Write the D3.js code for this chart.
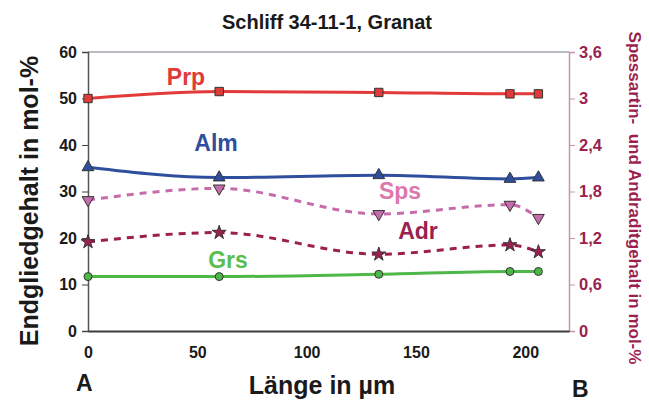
<!DOCTYPE html>
<html>
<head>
<meta charset="utf-8">
<style>
  body { margin: 0; background: #fff; }
  svg text { font-family: "Liberation Sans", Arial, sans-serif; font-weight: bold; }
</style>
</head>
<body>
<div id="chart"></div>
<script src="https://cdn.jsdelivr.net/npm/d3@7"></script>
<script>
var width = 649, height = 405;

// Länge in µm along the profile A-B
var laenge = [0, 60, 133, 193, 206];

// end members, left axis (mol-%)
var prp = [50, 51.5, 51.3, 51, 51];
var alm = [35.2, 33, 33.5, 32.7, 33];
var grs = [11.7, 11.7, 12.2, 12.8, 12.8];

// right axis (mol-%)
var sps = [1.69, 1.84, 1.51, 1.63, 1.46];
var adr = [1.15, 1.27, 0.99, 1.11, 1.02];

var xTicks = [0, 50, 100, 150, 200];
var yTicks = [0, 10, 20, 30, 40, 50, 60];
var y2Ticks = [0, 0.6, 1.2, 1.8, 2.4, 3, 3.6];

var x = d3.scaleLinear().domain([0, 220]).range([88, 569]);
var y = d3.scaleLinear().domain([0, 60]).range([331, 52]);
var y2 = d3.scaleLinear().domain([0, 3.6]).range([331, 52]);

var svg = d3.select('#chart').append('svg')
    .attr('width', width)
    .attr('height', height);

// title
svg.append('text')
    .attr('x', 327).attr('y', 29)
    .attr('text-anchor', 'middle')
    .style('font-size', '20px')
    .attr('fill', '#1a1a1a')
    .text('Schliff 34-11-1, Granat');

// frame
svg.append('line')
    .attr('x1', 88).attr('x2', 569).attr('y1', 52).attr('y2', 52)
    .attr('stroke', '#b9bcc0').attr('stroke-width', 2);

// left axis
var gy = svg.append('g')
    .attr('transform', 'translate(88,0)')
    .call(d3.axisLeft(y).tickValues(yTicks).tickSize(6).tickPadding(5).tickFormat(d3.format('d')));
gy.select('.domain').attr('stroke', '#555').attr('stroke-width', 1.5);
gy.selectAll('.tick line').attr('stroke', '#444');
gy.selectAll('.tick text').attr('fill', '#1a1a1a').style('font-size', '16px');

// right axis
var gy2 = svg.append('g')
    .attr('transform', 'translate(569,0)')
    .call(d3.axisRight(y2).tickValues(y2Ticks).tickSize(6).tickPadding(4)
      .tickFormat(function (d) { return String(d).replace('.', ','); }));
gy2.select('.domain').attr('stroke', '#c993b0').attr('stroke-width', 1.5);
gy2.selectAll('.tick line').attr('stroke', '#c993b0');
gy2.selectAll('.tick text').attr('fill', '#9b1f4f').style('font-size', '16.5px');

// bottom axis
var gx = svg.append('g')
    .attr('transform', 'translate(0,331)')
    .call(d3.axisBottom(x).tickValues(xTicks).tickSize(0).tickPadding(16));
gx.select('.domain').attr('stroke', '#3a3d40').attr('stroke-width', 2);
gx.selectAll('.tick text').attr('fill', '#1a1a1a').style('font-size', '16px');

// axis titles
svg.append('text')
    .attr('transform', 'translate(38,201) rotate(-90)')
    .attr('text-anchor', 'middle')
    .style('font-size', '25px')
    .attr('fill', '#1a1a1a')
    .text('Endgliedgehalt in mol-%');

svg.append('text')
    .attr('transform', 'translate(629,198) rotate(90)')
    .attr('text-anchor', 'middle')
    .style('font-size', '17px')
    .attr('fill', '#9b1f4f')
    .attr('xml:space', 'preserve')
    .text('Spessartin-  und Andraditgehalt in mol-%');

svg.append('text')
    .attr('x', 322).attr('y', 394)
    .attr('text-anchor', 'middle')
    .style('font-size', '25px')
    .attr('fill', '#1a1a1a')
    .text('Länge in µm');

svg.append('text').attr('x', 76).attr('y', 391).style('font-size', '23px').attr('fill', '#1a1a1a').text('A');
svg.append('text').attr('x', 572).attr('y', 397).style('font-size', '23px').attr('fill', '#1a1a1a').text('B');

// series
var series = [
  { name: 'Prp', vals: prp, scale: y, color: '#e23a38', dash: null, sym: d3.symbolSquare, size: 70, fill: '#e23a38', lx: 186, ly: 85, lc: '#e23a38' },
  { name: 'Alm', vals: alm, scale: y, color: '#2f4f9e', dash: null, sym: d3.symbolTriangle, size: 60, fill: '#2f4f9e', lx: 216, ly: 151, lc: '#2f4f9e' },
  { name: 'Sps', vals: sps, scale: y2, color: '#c76cab', dash: '7,6', sym: 'down', size: 60, fill: '#c76cab', lx: 400, ly: 199, lc: '#dd77ad' },
  { name: 'Adr', vals: adr, scale: y2, color: '#9b1f4f', dash: '7,6', sym: d3.symbolStar, size: 60, fill: '#9b1f4f', lx: 418, ly: 239, lc: '#9b1f4f' },
  { name: 'Grs', vals: grs, scale: y, color: '#4db848', dash: null, sym: d3.symbolCircle, size: 50, fill: '#4db848', lx: 228, ly: 268, lc: '#5cbd50' }
];

var line = d3.line().curve(d3.curveMonotoneX);

series.forEach(function (s) {
  var pts = laenge.map(function (l, i) { return [x(l), s.scale(s.vals[i])]; });
  var g = svg.append('g').attr('class', 'series');
  g.append('path')
      .attr('d', line(pts))
      .attr('fill', 'none')
      .attr('stroke', s.color)
      .attr('stroke-width', 3)
      .attr('stroke-dasharray', s.dash);

  var symType = s.sym === 'down' ? d3.symbolTriangle : s.sym;
  g.selectAll('path.mark')
      .data(pts)
      .enter().append('path')
      .attr('class', 'mark')
      .attr('d', d3.symbol().type(symType).size(s.size))
      .attr('transform', function (d) {
        return 'translate(' + d + ')' + (s.sym === 'down' ? ' rotate(180)' : '');
      })
      .attr('fill', s.fill)
      .attr('stroke', '#333')
      .attr('stroke-width', 1);

  svg.append('text')
      .attr('x', s.lx).attr('y', s.ly)
      .attr('text-anchor', 'middle')
      .style('font-size', '23px')
      .attr('fill', s.lc)
      .text(s.name);
});
</script>
</body>
</html>
